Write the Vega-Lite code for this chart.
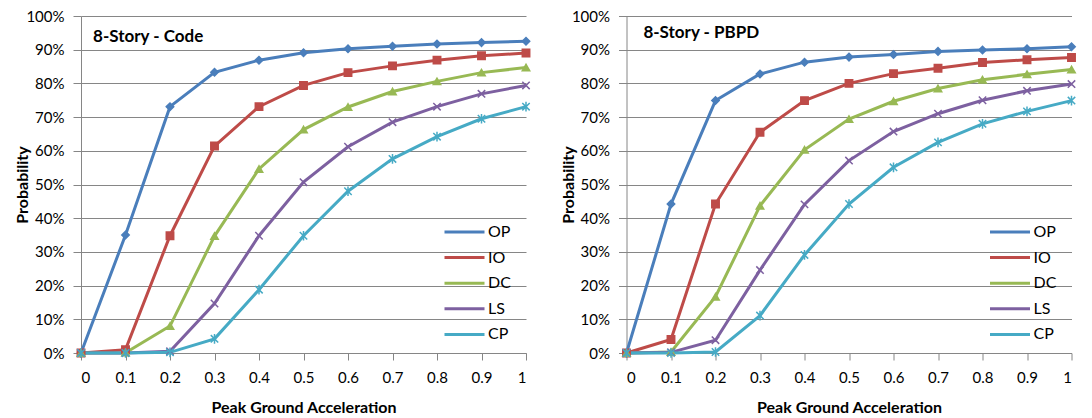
{
  "$schema": "https://vega.github.io/schema/vega-lite/v6.json",
  "background": "white",
  "padding": {"left": 14, "top": 9, "right": 5, "bottom": 5},
  "spacing": 26.5,
  "config": {
    "view": {"stroke": null},
    "font": "Lato"
  },
  "datasets": {
    "frag": [
      {"design": "Code", "series": "OP", "pga": 0, "p": 0},
      {"design": "Code", "series": "OP", "pga": 0.1, "p": 0.35},
      {"design": "Code", "series": "OP", "pga": 0.2, "p": 0.731},
      {"design": "Code", "series": "OP", "pga": 0.3, "p": 0.833},
      {"design": "Code", "series": "OP", "pga": 0.4, "p": 0.869},
      {"design": "Code", "series": "OP", "pga": 0.5, "p": 0.891},
      {"design": "Code", "series": "OP", "pga": 0.6, "p": 0.903},
      {"design": "Code", "series": "OP", "pga": 0.7, "p": 0.91},
      {"design": "Code", "series": "OP", "pga": 0.8, "p": 0.917},
      {"design": "Code", "series": "OP", "pga": 0.9, "p": 0.921},
      {"design": "Code", "series": "OP", "pga": 1, "p": 0.925},
      {"design": "Code", "series": "IO", "pga": 0, "p": 0},
      {"design": "Code", "series": "IO", "pga": 0.1, "p": 0.01},
      {"design": "Code", "series": "IO", "pga": 0.2, "p": 0.348},
      {"design": "Code", "series": "IO", "pga": 0.3, "p": 0.614},
      {"design": "Code", "series": "IO", "pga": 0.4, "p": 0.731},
      {"design": "Code", "series": "IO", "pga": 0.5, "p": 0.794},
      {"design": "Code", "series": "IO", "pga": 0.6, "p": 0.832},
      {"design": "Code", "series": "IO", "pga": 0.7, "p": 0.852},
      {"design": "Code", "series": "IO", "pga": 0.8, "p": 0.869},
      {"design": "Code", "series": "IO", "pga": 0.9, "p": 0.882},
      {"design": "Code", "series": "IO", "pga": 1, "p": 0.89},
      {"design": "Code", "series": "DC", "pga": 0, "p": 0},
      {"design": "Code", "series": "DC", "pga": 0.1, "p": 0.001},
      {"design": "Code", "series": "DC", "pga": 0.2, "p": 0.08},
      {"design": "Code", "series": "DC", "pga": 0.3, "p": 0.347},
      {"design": "Code", "series": "DC", "pga": 0.4, "p": 0.546},
      {"design": "Code", "series": "DC", "pga": 0.5, "p": 0.663},
      {"design": "Code", "series": "DC", "pga": 0.6, "p": 0.73},
      {"design": "Code", "series": "DC", "pga": 0.7, "p": 0.776},
      {"design": "Code", "series": "DC", "pga": 0.8, "p": 0.806},
      {"design": "Code", "series": "DC", "pga": 0.9, "p": 0.832},
      {"design": "Code", "series": "DC", "pga": 1, "p": 0.847},
      {"design": "Code", "series": "LS", "pga": 0, "p": 0},
      {"design": "Code", "series": "LS", "pga": 0.1, "p": 0},
      {"design": "Code", "series": "LS", "pga": 0.2, "p": 0.005},
      {"design": "Code", "series": "LS", "pga": 0.3, "p": 0.147},
      {"design": "Code", "series": "LS", "pga": 0.4, "p": 0.348},
      {"design": "Code", "series": "LS", "pga": 0.5, "p": 0.507},
      {"design": "Code", "series": "LS", "pga": 0.6, "p": 0.612},
      {"design": "Code", "series": "LS", "pga": 0.7, "p": 0.685},
      {"design": "Code", "series": "LS", "pga": 0.8, "p": 0.731},
      {"design": "Code", "series": "LS", "pga": 0.9, "p": 0.769},
      {"design": "Code", "series": "LS", "pga": 1, "p": 0.794},
      {"design": "Code", "series": "CP", "pga": 0, "p": 0},
      {"design": "Code", "series": "CP", "pga": 0.1, "p": 0},
      {"design": "Code", "series": "CP", "pga": 0.2, "p": 0.002},
      {"design": "Code", "series": "CP", "pga": 0.3, "p": 0.042},
      {"design": "Code", "series": "CP", "pga": 0.4, "p": 0.188},
      {"design": "Code", "series": "CP", "pga": 0.5, "p": 0.348},
      {"design": "Code", "series": "CP", "pga": 0.6, "p": 0.48},
      {"design": "Code", "series": "CP", "pga": 0.7, "p": 0.576},
      {"design": "Code", "series": "CP", "pga": 0.8, "p": 0.642},
      {"design": "Code", "series": "CP", "pga": 0.9, "p": 0.695},
      {"design": "Code", "series": "CP", "pga": 1, "p": 0.731},
      {"design": "PBPD", "series": "OP", "pga": 0, "p": 0},
      {"design": "PBPD", "series": "OP", "pga": 0.1, "p": 0.442},
      {"design": "PBPD", "series": "OP", "pga": 0.2, "p": 0.749},
      {"design": "PBPD", "series": "OP", "pga": 0.3, "p": 0.828},
      {"design": "PBPD", "series": "OP", "pga": 0.4, "p": 0.863},
      {"design": "PBPD", "series": "OP", "pga": 0.5, "p": 0.878},
      {"design": "PBPD", "series": "OP", "pga": 0.6, "p": 0.886},
      {"design": "PBPD", "series": "OP", "pga": 0.7, "p": 0.895},
      {"design": "PBPD", "series": "OP", "pga": 0.8, "p": 0.899},
      {"design": "PBPD", "series": "OP", "pga": 0.9, "p": 0.903},
      {"design": "PBPD", "series": "OP", "pga": 1, "p": 0.909},
      {"design": "PBPD", "series": "IO", "pga": 0, "p": 0},
      {"design": "PBPD", "series": "IO", "pga": 0.1, "p": 0.04},
      {"design": "PBPD", "series": "IO", "pga": 0.2, "p": 0.442},
      {"design": "PBPD", "series": "IO", "pga": 0.3, "p": 0.655},
      {"design": "PBPD", "series": "IO", "pga": 0.4, "p": 0.749},
      {"design": "PBPD", "series": "IO", "pga": 0.5, "p": 0.8},
      {"design": "PBPD", "series": "IO", "pga": 0.6, "p": 0.829},
      {"design": "PBPD", "series": "IO", "pga": 0.7, "p": 0.845},
      {"design": "PBPD", "series": "IO", "pga": 0.8, "p": 0.862},
      {"design": "PBPD", "series": "IO", "pga": 0.9, "p": 0.87},
      {"design": "PBPD", "series": "IO", "pga": 1, "p": 0.877},
      {"design": "PBPD", "series": "DC", "pga": 0, "p": 0},
      {"design": "PBPD", "series": "DC", "pga": 0.1, "p": 0.003},
      {"design": "PBPD", "series": "DC", "pga": 0.2, "p": 0.167},
      {"design": "PBPD", "series": "DC", "pga": 0.3, "p": 0.437},
      {"design": "PBPD", "series": "DC", "pga": 0.4, "p": 0.603},
      {"design": "PBPD", "series": "DC", "pga": 0.5, "p": 0.694},
      {"design": "PBPD", "series": "DC", "pga": 0.6, "p": 0.747},
      {"design": "PBPD", "series": "DC", "pga": 0.7, "p": 0.785},
      {"design": "PBPD", "series": "DC", "pga": 0.8, "p": 0.811},
      {"design": "PBPD", "series": "DC", "pga": 0.9, "p": 0.827},
      {"design": "PBPD", "series": "DC", "pga": 1, "p": 0.841},
      {"design": "PBPD", "series": "LS", "pga": 0, "p": 0},
      {"design": "PBPD", "series": "LS", "pga": 0.1, "p": 0.002},
      {"design": "PBPD", "series": "LS", "pga": 0.2, "p": 0.038},
      {"design": "PBPD", "series": "LS", "pga": 0.3, "p": 0.246},
      {"design": "PBPD", "series": "LS", "pga": 0.4, "p": 0.441},
      {"design": "PBPD", "series": "LS", "pga": 0.5, "p": 0.571},
      {"design": "PBPD", "series": "LS", "pga": 0.6, "p": 0.657},
      {"design": "PBPD", "series": "LS", "pga": 0.7, "p": 0.71},
      {"design": "PBPD", "series": "LS", "pga": 0.8, "p": 0.75},
      {"design": "PBPD", "series": "LS", "pga": 0.9, "p": 0.778},
      {"design": "PBPD", "series": "LS", "pga": 1, "p": 0.798},
      {"design": "PBPD", "series": "CP", "pga": 0, "p": 0},
      {"design": "PBPD", "series": "CP", "pga": 0.1, "p": 0},
      {"design": "PBPD", "series": "CP", "pga": 0.2, "p": 0.003},
      {"design": "PBPD", "series": "CP", "pga": 0.3, "p": 0.111},
      {"design": "PBPD", "series": "CP", "pga": 0.4, "p": 0.291},
      {"design": "PBPD", "series": "CP", "pga": 0.5, "p": 0.442},
      {"design": "PBPD", "series": "CP", "pga": 0.6, "p": 0.551},
      {"design": "PBPD", "series": "CP", "pga": 0.7, "p": 0.625},
      {"design": "PBPD", "series": "CP", "pga": 0.8, "p": 0.68},
      {"design": "PBPD", "series": "CP", "pga": 0.9, "p": 0.717},
      {"design": "PBPD", "series": "CP", "pga": 1, "p": 0.749}
    ]
  },
  "resolve": {
    "scale": {"color": "independent"},
    "legend": {"color": "independent"}
  },
  "hconcat": [
    {
      "width": 445,
      "height": 337,
      "data": {"name": "frag"},
      "transform": [{"filter": "datum.design === 'Code'"}],
      "encoding": {
        "x": {"field": "pga", "type": "quantitative", "scale": {"domain": [0, 1], "nice": false, "zero": false},
          "axis": {"title": "Peak Ground Acceleration", "values": [0, 0.1, 0.2, 0.3, 0.4, 0.5, 0.6, 0.7, 0.8, 0.9, 1], "format": "~g", "grid": false, "domainColor": "#868686", "tickColor": "#868686", "tickSize": 7, "labelPadding": 10, "labelFont": "Lato", "labelFontSize": 15, "labelColor": "black", "titleFont": "Lato", "titleFontSize": 16, "titleFontWeight": "bold", "titleColor": "black", "titlePadding": 14}},
        "y": {"field": "p", "type": "quantitative", "scale": {"domain": [0, 1], "nice": false},
          "axis": {"title": "Probability", "values": [0, 0.1, 0.2, 0.3, 0.4, 0.5, 0.6, 0.7, 0.8, 0.9, 1], "format": ".0%", "grid": true, "gridColor": "#868686", "gridOpacity": 1, "domainColor": "#868686", "tickColor": "#868686", "tickSize": 8, "labelPadding": 9, "labelFont": "Lato", "labelFontSize": 15, "labelColor": "black", "titleFont": "Lato", "titleFontSize": 16, "titleFontWeight": "bold", "titleColor": "black", "titlePadding": -5}}
      },
      "layer": [
        {"mark": {"type": "line", "strokeWidth": 3},
          "encoding": {
            "color": {"field": "series", "type": "nominal",
              "scale": {"domain": ["OP", "IO", "DC", "LS", "CP"], "range": ["#4A7EBB", "#BE4B48", "#98B954", "#7D60A0", "#46AAC5"]},
              "legend": {"title": null, "orient": "none", "legendX": 362, "legendY": 206, "symbolType": "stroke", "symbolSize": 1600, "symbolStrokeWidth": 3, "clipHeight": 20, "labelOffset": 2, "labelFont": "Lato", "labelFontSize": 16, "labelColor": "black", "rowPadding": 5.6}}
          }},
        {"mark": {"type": "point", "filled": true, "size": 55, "strokeWidth": 1.5, "opacity": 1},
          "encoding": {
            "fill": {"field": "series", "type": "nominal", "legend": null,
              "scale": {"domain": ["OP", "IO", "DC", "LS", "CP"], "range": ["#4A7EBB", "#BE4B48", "#98B954", "#7D60A0", "#46AAC5"]}},
            "shape": {"field": "series", "type": "nominal", "legend": null,
              "scale": {"domain": ["OP", "IO", "DC", "LS", "CP"], "range": ["diamond", "square", "triangle-up", "M-1,-1L1,1M-1,1L1,-1", "M-1,-1L1,1M-1,1L1,-1M0,-1.3L0,1.3"]}},
            "stroke": {"field": "series", "type": "nominal", "legend": null,
              "scale": {"domain": ["OP", "IO", "DC", "LS", "CP"], "range": ["#4A7EBB", "#BE4B48", "#98B954", "#7D60A0", "#46AAC5"]}}
          }},
        {"transform": [{"filter": "datum.series === 'OP' && datum.pga === 0"}],
          "mark": {"type": "text", "text": "8-Story - Code", "align": "left", "baseline": "alphabetic", "font": "Lato", "fontSize": 17, "fontWeight": "bold", "color": "black"},
          "encoding": {"x": {"datum": 0.027}, "y": {"datum": 0.923}}}
      ]
    },
    {
      "width": 445,
      "height": 337,
      "data": {"name": "frag"},
      "transform": [{"filter": "datum.design === 'PBPD'"}],
      "encoding": {
        "x": {"field": "pga", "type": "quantitative", "scale": {"domain": [0, 1], "nice": false, "zero": false},
          "axis": {"title": "Peak Ground Acceleration", "values": [0, 0.1, 0.2, 0.3, 0.4, 0.5, 0.6, 0.7, 0.8, 0.9, 1], "format": "~g", "grid": false, "domainColor": "#868686", "tickColor": "#868686", "tickSize": 7, "labelPadding": 10, "labelFont": "Lato", "labelFontSize": 15, "labelColor": "black", "titleFont": "Lato", "titleFontSize": 16, "titleFontWeight": "bold", "titleColor": "black", "titlePadding": 14}},
        "y": {"field": "p", "type": "quantitative", "scale": {"domain": [0, 1], "nice": false},
          "axis": {"title": "Probability", "values": [0, 0.1, 0.2, 0.3, 0.4, 0.5, 0.6, 0.7, 0.8, 0.9, 1], "format": ".0%", "grid": true, "gridColor": "#868686", "gridOpacity": 1, "domainColor": "#868686", "tickColor": "#868686", "tickSize": 8, "labelPadding": 9, "labelFont": "Lato", "labelFontSize": 15, "labelColor": "black", "titleFont": "Lato", "titleFontSize": 16, "titleFontWeight": "bold", "titleColor": "black", "titlePadding": -5}}
      },
      "layer": [
        {"mark": {"type": "line", "strokeWidth": 3},
          "encoding": {
            "color": {"field": "series", "type": "nominal",
              "scale": {"domain": ["OP", "IO", "DC", "LS", "CP"], "range": ["#4A7EBB", "#BE4B48", "#98B954", "#7D60A0", "#46AAC5"]},
              "legend": {"title": null, "orient": "none", "legendX": 362, "legendY": 206, "symbolType": "stroke", "symbolSize": 1600, "symbolStrokeWidth": 3, "clipHeight": 20, "labelOffset": 2, "labelFont": "Lato", "labelFontSize": 16, "labelColor": "black", "rowPadding": 5.6}}
          }},
        {"mark": {"type": "point", "filled": true, "size": 55, "strokeWidth": 1.5, "opacity": 1},
          "encoding": {
            "fill": {"field": "series", "type": "nominal", "legend": null,
              "scale": {"domain": ["OP", "IO", "DC", "LS", "CP"], "range": ["#4A7EBB", "#BE4B48", "#98B954", "#7D60A0", "#46AAC5"]}},
            "shape": {"field": "series", "type": "nominal", "legend": null,
              "scale": {"domain": ["OP", "IO", "DC", "LS", "CP"], "range": ["diamond", "square", "triangle-up", "M-1,-1L1,1M-1,1L1,-1", "M-1,-1L1,1M-1,1L1,-1M0,-1.3L0,1.3"]}},
            "stroke": {"field": "series", "type": "nominal", "legend": null,
              "scale": {"domain": ["OP", "IO", "DC", "LS", "CP"], "range": ["#4A7EBB", "#BE4B48", "#98B954", "#7D60A0", "#46AAC5"]}}
          }},
        {"transform": [{"filter": "datum.series === 'OP' && datum.pga === 0"}],
          "mark": {"type": "text", "text": "8-Story - PBPD", "align": "left", "baseline": "alphabetic", "font": "Lato", "fontSize": 17, "fontWeight": "bold", "color": "black"},
          "encoding": {"x": {"datum": 0.038}, "y": {"datum": 0.934}}}
      ]
    }
  ]
}
